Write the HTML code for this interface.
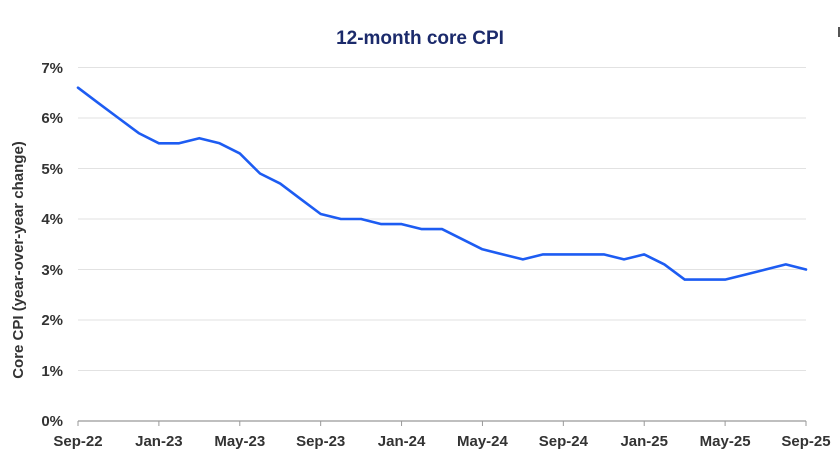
<!DOCTYPE html>
<html><head><meta charset="utf-8"><style>
html,body{margin:0;padding:0;background:#fff;}
svg{display:block;font-family:"Liberation Sans",sans-serif;}
</style></head><body>
<svg id="c" width="840" height="472" viewBox="0 0 840 472" xmlns="http://www.w3.org/2000/svg">
<text x="420" y="44" text-anchor="middle" font-size="19" font-weight="bold" fill="#1b2a6b">12-month core CPI</text>
<rect x="838" y="27" width="2" height="10" fill="#555"/>
<g stroke="#e2e2e2" stroke-width="1">
<line x1="78" x2="806" y1="67.5" y2="67.5"/>
<line x1="78" x2="806" y1="118" y2="118"/>
<line x1="78" x2="806" y1="168.5" y2="168.5"/>
<line x1="78" x2="806" y1="219" y2="219"/>
<line x1="78" x2="806" y1="269.5" y2="269.5"/>
<line x1="78" x2="806" y1="320" y2="320"/>
<line x1="78" x2="806" y1="370.5" y2="370.5"/>
</g>
<g font-size="15" font-weight="bold" fill="#333" text-anchor="end">
<text x="63" y="73">7%</text><text x="63" y="123">6%</text><text x="63" y="174">5%</text>
<text x="63" y="224">4%</text><text x="63" y="275">3%</text><text x="63" y="325">2%</text>
<text x="63" y="376">1%</text><text x="63" y="426">0%</text>
</g>
<text transform="translate(23,260) rotate(-90)" text-anchor="middle" font-size="15" font-weight="bold" fill="#333">Core CPI (year-over-year change)</text>
<line x1="78" x2="806" y1="421" y2="421" stroke="#999" stroke-width="1.2"/>
<g id="ticks" stroke="#999" stroke-width="1"></g>
<g id="xl" font-size="15" font-weight="bold" fill="#333" text-anchor="middle"></g>
<polyline id="ln" fill="none" stroke="#1d5cf2" stroke-width="2.6" stroke-linejoin="round" stroke-linecap="round"/>
</svg>
<script>
var v=[6.6,6.3,6.0,5.7,5.5,5.5,5.6,5.5,5.3,4.9,4.7,4.4,4.1,4.0,4.0,3.9,3.9,3.8,3.8,3.6,3.4,3.3,3.2,3.3,3.3,3.3,3.3,3.2,3.3,3.1,2.8,2.8,2.8,2.9,3.0,3.1,3.0];
var dx=(806-78)/36,p=[];
for(var i=0;i<v.length;i++)p.push((78+i*dx).toFixed(1)+","+(421-v[i]*50.5).toFixed(1));
document.getElementById("ln").setAttribute("points",p.join(" "));
var labs=["Sep-22","Jan-23","May-23","Sep-23","Jan-24","May-24","Sep-24","Jan-25","May-25","Sep-25"];
var t="",l="",ns="http://www.w3.org/2000/svg";
for(var k=0;k<10;k++){var x=78+k*4*dx;
var a=document.createElementNS(ns,"line");a.setAttribute("x1",x);a.setAttribute("x2",x);a.setAttribute("y1",421);a.setAttribute("y2",426);document.getElementById("ticks").appendChild(a);
var tx=document.createElementNS(ns,"text");tx.setAttribute("x",x);tx.setAttribute("y",446);tx.textContent=labs[k];document.getElementById("xl").appendChild(tx);}
</script>
</body></html>
